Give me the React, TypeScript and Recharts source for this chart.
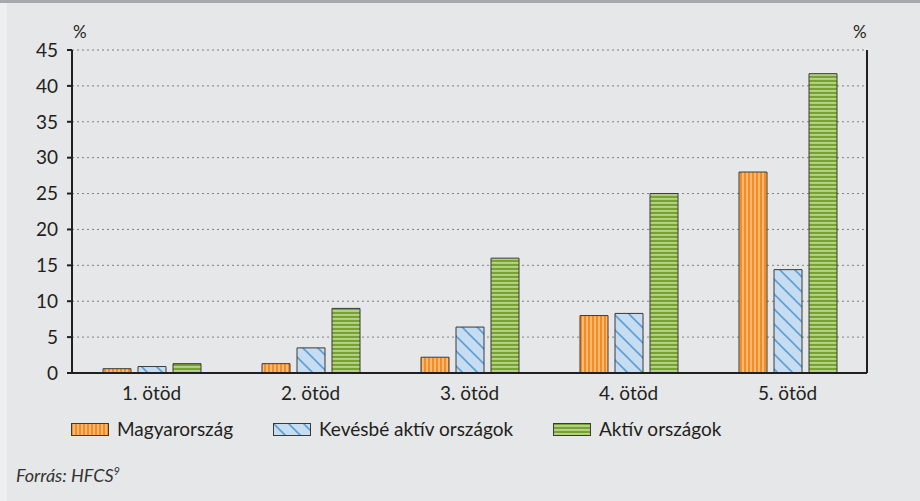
import { Bar, BarChart, CartesianGrid, XAxis, YAxis } from "recharts";

const categories = ["1. ötöd", "2. ötöd", "3. ötöd", "4. ötöd", "5. ötöd"];
const hungary = [0.6, 1.3, 2.2, 8.0, 28.0];
const lessActive = [0.9, 3.5, 6.4, 8.3, 14.4];
const active = [1.3, 9.0, 16.0, 25.0, 41.7];
const yTicks = [0, 5, 10, 15, 20, 25, 30, 35, 40, 45];

const series = [
  { key: "hu", name: "Magyarország", fill: "url(#pOrange)", legendX: 71 },
  { key: "less", name: "Kevésbé aktív országok", fill: "url(#pBlue)", legendX: 273 },
  { key: "act", name: "Aktív országok", fill: "url(#pGreen)", legendX: 553 },
];

const data = categories.map((c, i) => ({
  cat: c,
  idx: i + 0.5,
  hu: hungary[i],
  less: lessActive[i],
  act: active[i],
}));

const FONT = "Lato, 'Open Sans', sans-serif";
const INK = "#231f20";
const FS = 19;

function Patterns() {
  return (
    <svg width={0} height={0} style={{ position: "absolute" }}>
      <defs>
        <pattern id="pOrange" width={4} height={4} patternUnits="userSpaceOnUse">
          <rect width={4} height={4} fill="#f68b1f" />
          <rect x={2.2} width={1.6} height={4} fill="#fcc58c" />
        </pattern>
        <pattern id="pBlue" width={15} height={15} patternUnits="userSpaceOnUse">
          <rect width={15} height={15} fill="#c6dcf0" />
          <path d="M-1,-1 L16,16 M-1,14 L1,16 M14,-1 L16,1" stroke="#5f9fd6" strokeWidth={1.6} />
        </pattern>
        <pattern id="pGreen" width={4} height={4} patternUnits="userSpaceOnUse">
          <rect width={4} height={4} fill="#76a22e" />
          <rect y={2.2} width={4} height={1.5} fill="#c9dda6" />
        </pattern>
      </defs>
    </svg>
  );
}

export default function App() {
  return (
    <div
      style={{
        position: "absolute",
        left: 0,
        top: 0,
        width: 920,
        height: 501,
        background: "#e6e7e8",
        fontFamily: FONT,
        color: INK,
        overflow: "hidden",
      }}
    >
      <Patterns />
      <div style={{ position: "absolute", left: 0, top: 0, width: 920, height: 3, background: "#a7a9ac" }} />
      <div style={{ position: "absolute", left: 0, top: 3, width: 7, height: 498, background: "#eeeff0" }} />
      <div style={{ position: "absolute", left: 73, top: 21, fontSize: 17, lineHeight: "22px" }}>%</div>
      <div style={{ position: "absolute", left: 853, top: 21, fontSize: 17, lineHeight: "22px" }}>%</div>
      <div style={{ position: "absolute", left: 0, top: 0 }}>
        <BarChart
          width={920}
          height={410}
          data={data}
          margin={{ top: 50, right: 0, left: 0, bottom: 0 }}
          barSize={28}
          barGap={7}
        >
          <CartesianGrid
            yAxisId="left"
            xAxisId="cat"
            vertical={false}
            stroke="#7f7f7f"
            strokeDasharray="2 3"
          />
          <XAxis
            xAxisId="bound"
            type="number"
            dataKey="idx"
            domain={[0, 5]}
            ticks={[1, 2, 3, 4]}
            height={0}
            axisLine={false}
            tick={false}
            tickLine={{ stroke: INK, strokeWidth: 2 }}
            tickSize={5}
          />
          <XAxis
            xAxisId="cat"
            dataKey="cat"
            height={37}
            axisLine={{ stroke: INK, strokeWidth: 2 }}
            tickLine={false}
            tick={{ fill: INK, fontSize: FS, fontFamily: FONT }}
            tickMargin={8}
          />
          <YAxis
            yAxisId="left"
            orientation="left"
            width={72}
            domain={[0, 45]}
            ticks={yTicks}
            interval={0}
            axisLine={{ stroke: INK, strokeWidth: 2 }}
            tickLine={{ stroke: INK, strokeWidth: 2 }}
            tickSize={5}
            tickMargin={9}
            tick={{ fill: INK, fontSize: FS, fontFamily: FONT }}
          />
          <YAxis
            yAxisId="right"
            orientation="right"
            width={53}
            domain={[0, 45]}
            ticks={yTicks}
            interval={0}
            axisLine={{ stroke: INK, strokeWidth: 2 }}
            tickLine={{ stroke: INK, strokeWidth: 2 }}
            tickSize={6}
            tickMargin={8}
            tick={{ fill: INK, fontSize: FS, fontFamily: FONT }}
          />
          {series.map((s) => (
            <Bar
              key={s.key}
              xAxisId="cat"
              yAxisId="left"
              dataKey={s.key}
              name={s.name}
              fill={s.fill}
              stroke="#3a3a3a"
              strokeWidth={1}
              isAnimationActive={false}
            />
          ))}
        </BarChart>
      </div>
      {series.map((s) => (
        <div
          key={s.key}
          style={{
            position: "absolute",
            left: s.legendX,
            top: 418,
            height: 22,
            display: "flex",
            alignItems: "center",
            fontSize: FS,
            lineHeight: "22px",
            whiteSpace: "nowrap",
          }}
        >
          <svg width={38} height={13} style={{ marginRight: 8 }}>
            <rect x={0.5} y={0.5} width={37} height={12} fill={s.fill} stroke="#3a3a3a" strokeWidth={1} />
          </svg>
          <span>{s.name}</span>
        </div>
      ))}
      <div
        style={{
          position: "absolute",
          left: 16,
          top: 464,
          fontSize: 18,
          lineHeight: "22px",
          fontStyle: "italic",
          color: "#333",
        }}
      >
        Forrás: HFCS<sup style={{ fontSize: 11, verticalAlign: "7px", lineHeight: 0 }}>9</sup>
      </div>
    </div>
  );
}
